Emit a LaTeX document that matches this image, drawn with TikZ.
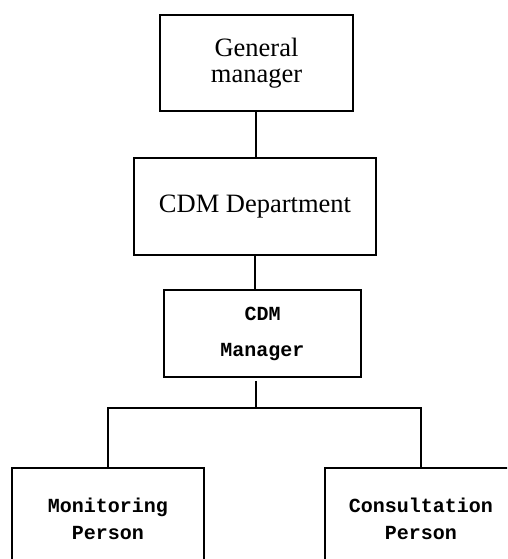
\documentclass[tikz,border=0pt]{standalone}
\usepackage{fontspec}
\setmainfont{Liberation Serif}
\setmonofont{Liberation Mono}
\usepackage{tikz}
\usetikzlibrary{calc}

\tikzset{
  unit/.style={draw, line width=1.6pt, inner sep=0pt, align=center},
  serif/.style={font=\fontsize{26.5}{26}\selectfont},
  mono/.style={font=\ttfamily\bfseries\fontsize{20}{27}\selectfont}
}

\begin{document}
\begin{tikzpicture}[x=1pt,y=-1pt]
\clip (0,0) rectangle (507,559);
\fill[white] (0,0) rectangle (507,559);
\node[unit,serif,minimum width=193pt,minimum height=96pt] (gm) at (256.5,63) {General\\manager};
\node[unit,serif,minimum width=242pt,minimum height=97pt] (dept) at (255,206.5) {CDM Department};
\node[unit,mono,font=\ttfamily\bfseries\fontsize{20}{36}\selectfont,minimum width=197pt,minimum height=87pt] (mgr) at (262.5,333.5) {CDM\\Manager};
\node[unit,mono,minimum width=192pt,minimum height=101pt] (mon) at (108,518.5) {Monitoring\\Person};
\node[unit,mono,minimum width=192pt,minimum height=101pt] (con) at (421,518.5) {Consultation\\Person};
\coordinate (split) at (256,408);
\draw[line width=1.6pt] (gm.south -| split) -- (split |- dept.north);
\draw[line width=1.6pt] (dept.south) -- (dept.south |- mgr.north);
\draw[line width=1.6pt] ($(split |- mgr.south)+(0,3)$) -- (split);
\draw[line width=1.6pt] (mon.north) |- (split) -| (con.north);
\end{tikzpicture}
\end{document}
